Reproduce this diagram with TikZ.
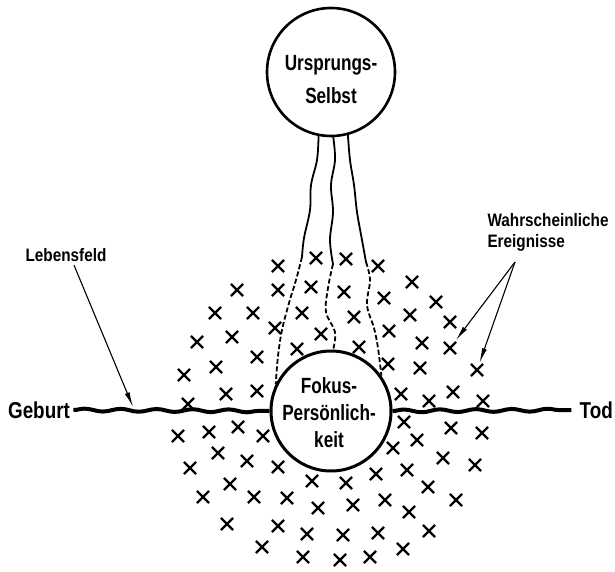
\documentclass[tikz,border=0pt]{standalone}
\usepackage{fontspec}
\setmainfont{Liberation Sans}
\newfontfamily\bigfont{Liberation Sans}[FakeStretch=0.82]
\newfontfamily\circfont{Liberation Sans}[FakeStretch=0.78]
\newfontfamily\labfont{Liberation Sans}[FakeStretch=0.85]
\usetikzlibrary{shapes.misc,decorations.pathmorphing,arrows.meta}
\begin{document}
\begin{tikzpicture}[x=1pt,y=-1pt,
  circ/.style={circle,draw,line width=2.6pt,inner sep=0pt,minimum size=#1},
  bigtext/.style={font=\bigfont\bfseries\fontsize{23}{27}\selectfont,align=center},
  circtext/.style={font=\circfont\bfseries\fontsize{22}{27}\selectfont,align=center},
  labtext/.style={font=\labfont\bfseries\fontsize{18}{21}\selectfont},
  xmark/.style={cross out,draw,line width=2.2pt,minimum size=10pt,inner sep=0pt},
  thread/.style={line width=1.8pt,line cap=round},
  dthread/.style={line width=1.8pt,dash pattern=on 5pt off 2.5pt},
  lifeline/.style={line width=4pt,decorate,decoration={snake,segment length=36pt,amplitude=1.4pt}},
  arr/.style={line width=1.1pt,-{Latex[length=15pt,width=5pt]}}]
\useasboundingbox (0,0) rectangle (615,572);

% circles
\node[circ=128pt] (top) at (331,72) {};
\node[circtext,font=\circfont\bfseries\fontsize{22}{33}\selectfont] (toptxt) at (331,80) {Ursprungs-\\Selbst};
\node[circ=120pt,line width=3pt] (focus) at (331,411) {};
\node[circtext] (focustxt) at (329,413) {Fokus-\\Persönlich-\\keit};

% end labels
\node[bigtext] (geb) at (39,410) {Geburt};
\node[bigtext,anchor=east,inner xsep=2pt] (tod) at (615,410) {Tod};
\node[labtext] (leb) at (66,255) {Lebensfeld};
\node[labtext,align=left,anchor=west] (wahr) at (484,232) {Wahrscheinliche\\Ereignisse};

% life line
\draw[lifeline] (geb.east) -- (focus.west);
\draw[lifeline] (focus.east) -- ([xshift=-6pt]tod.west);
\coordinate (lfpt) at (133,407);

% threads from origin self to focus personality
\coordinate (m1) at (302,257);
\coordinate (m2) at (333,264);
\coordinate (m3) at (366,262);
\draw[thread] plot[smooth,tension=0.6] coordinates {(top.259) (317,160) (311,185) (310,210) (304,238) (m1)};
\draw[dthread] plot[smooth,tension=0.6] coordinates {(m1) (296,280) (289,303) (282,330) (278,356) (focus.154)};
\draw[thread] plot[smooth,tension=0.6] coordinates {(top.272) (335,160) (331,185) (333,212) (330,240) (m2)};
\draw[dthread] plot[smooth,tension=0.6] coordinates {(m2) (328,288) (326,312) (335,332) (focus.88)};
\draw[thread] plot[smooth,tension=0.6] coordinates {(top.285) (350,160) (354,185) (357,212) (362,240) (m3)};
\draw[dthread] plot[smooth,tension=0.6] coordinates {(m3) (370,280) (367,305) (374,328) (378,348) (focus.35)};

% probable events
\foreach \x/\y [count=\i] in {
  237/290,215/313,253/313,197/342,232/337,257/357,216/367,184/375,226/394,257/391,188/404,
  278/266,316/258,346/259,378/266,278/290,311/287,344/292,384/298,302/313,354/317,275/328,321/334,389/331,297/349,359/347,388/364,
  412/282,436/302,410/315,450/322,422/343,420/368,401/394,429/401,453/392,483/401,
  404/422,451/428,482/433,417/440,443/458,475/465,407/470,428/487,456/500,409/512,429/531,403/549,
  393/448,278/467,312/481,346/483,376/474,287/498,318/508,353/505,385/500,278/526,307/534,343/535,378/533,303/557,340/560,370/557,
  178/436,209/432,238/427,263/436,218/453,247/461,190/468,230/484,203/497,254/497,227/524,262/547}
  \node[xmark] (x\i) at (\x,\y) {};
\node[xmark] (t1) at (450,348) {};
\node[xmark] (t2) at (477,370) {};

% arrows
\coordinate (esrc) at (515,262);
\draw[arr] ([xshift=8pt]leb.south) -- (lfpt);
\draw[arr,shorten >=2pt] (esrc) -- (t1);
\draw[arr,shorten >=1pt] (esrc) -- (t2);
\end{tikzpicture}
\end{document}
